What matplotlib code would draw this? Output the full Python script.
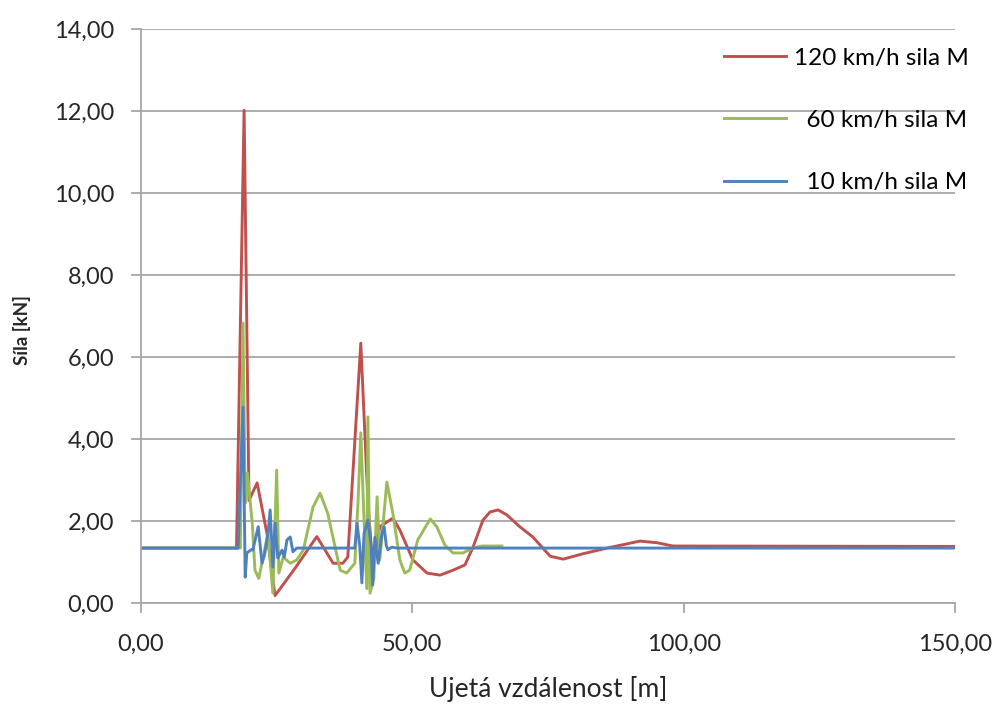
import matplotlib.pyplot as plt
from matplotlib.ticker import FuncFormatter, MultipleLocator

# 120 km/h
x_120 = [0, 17.6, 19.0, 19.9, 21.4, 23.2, 24.7, 28.4, 32.4, 35.4, 37.2, 38.1,
         40.5, 41.8, 42.7, 44.0, 46.4, 47.7, 50.1, 52.7, 55.1, 57.5, 59.7,
         61.2, 63.0, 64.3, 65.8, 67.4, 69.8, 72.2, 75.4, 77.8, 81.4, 85.9,
         91.9, 95.1, 98.0, 150]
y_120 = [1.34, 1.34, 12.02, 2.5, 2.93, 1.7, 0.18, 0.85, 1.62, 0.97, 0.97, 1.12,
         6.34, 2.5, 0.88, 1.86, 2.07, 1.78, 1.05, 0.73, 0.68, 0.8, 0.93,
         1.37, 2.02, 2.22, 2.27, 2.15, 1.86, 1.61, 1.14, 1.07, 1.2, 1.34,
         1.51, 1.47, 1.39, 1.38]

# 60 km/h
x_60 = [0, 18.3, 18.8, 19.2, 19.6, 20.1, 20.5, 21.0, 21.7, 22.5, 23.4, 24.3,
        25.0, 25.4, 26.2, 27.5, 28.7, 29.9, 31.7, 33.0, 34.4, 36.7, 37.9,
        39.4, 40.0, 40.5, 41.1, 41.6, 41.8, 42.2, 42.9, 43.5, 44.0, 45.3,
        46.4, 47.7, 48.6, 49.5, 51.0, 53.3, 54.5, 56.0, 57.5, 59.3, 61.2,
        62.8, 66.5]
y_60 = [1.34, 1.34, 6.83, 2.44, 3.17, 2.5, 1.95, 0.8, 0.6, 1.12, 1.7, 0.24,
        3.24, 0.73, 1.12, 0.97, 1.05, 1.29, 2.34, 2.68, 2.19, 0.8, 0.73,
        0.97, 2.5, 4.15, 2.0, 0.35, 4.54, 0.24, 0.6, 2.59, 1.05, 2.95,
        2.19, 1.05, 0.73, 0.8, 1.54, 2.05, 1.86, 1.41, 1.22, 1.22, 1.34,
        1.39, 1.39]

# 10 km/h
x_10 = [0, 17.9, 18.8, 19.2, 19.5, 20.3, 20.6, 21.6, 22.3, 22.8, 23.4, 23.8,
        24.3, 24.7, 25.2, 26.0, 26.4, 26.9, 27.5, 28.0, 28.7, 39.4, 39.8,
        40.3, 40.7, 41.1, 41.8, 42.4, 42.7, 43.1, 43.7, 44.4, 44.8, 45.2,
        45.5, 46.2, 47.2, 150]
y_10 = [1.34, 1.34, 4.78, 0.63, 1.22, 1.3, 1.29, 1.86, 0.97, 1.2, 1.7, 2.27,
        0.88, 1.95, 1.1, 1.29, 1.12, 1.54, 1.61, 1.25, 1.34, 1.34, 1.95,
        1.4, 0.49, 1.7, 2.02, 1.4, 0.44, 1.6, 0.97, 1.7, 1.86, 1.4,
        1.3, 1.36, 1.34, 1.34]

labels = ['120 km/h sila M', '  60 km/h sila M', '  10 km/h sila M']

plt.rcParams['font.family'] = ['Lato', 'DejaVu Sans']

fig = plt.figure(figsize=(9.97, 7.09), dpi=100)
ax = fig.add_axes([0.1414, 0.1495, 0.8166, 0.8095])

ax.plot(x_120, y_120, color='#C0504D', lw=2.1, label=labels[0])
ax.plot(x_60, y_60, color='#9BBB59', lw=2.1, label=labels[1])
ax.plot(x_10, y_10, color='#4F81BD', lw=2.1, label=labels[2])

ax.set_xlim(0, 150)
ax.set_ylim(0, 14)
ax.xaxis.set_major_locator(MultipleLocator(50))
ax.yaxis.set_major_locator(MultipleLocator(2))
fmt = FuncFormatter(lambda v, p: f"{v:.2f}".replace('.', ','))
ax.xaxis.set_major_formatter(fmt)
ax.yaxis.set_major_formatter(fmt)

ax.grid(axis='y', color='#A6A6A6', lw=1.3)
ax.set_axisbelow(True)
for s in ['top', 'right']:
    ax.spines[s].set_visible(False)
for s in ['left', 'bottom']:
    ax.spines[s].set_color('#A6A6A6')
    ax.spines[s].set_linewidth(1.3)
ax.tick_params(axis='both', length=7.5, width=1.3, color='#A6A6A6',
               labelsize=17, labelcolor='#262626')
ax.tick_params(axis='y', pad=12)
ax.tick_params(axis='x', pad=15)

ax.set_xlabel('Ujetá vzdálenost [m]', fontsize=19, color='#262626')
ax.xaxis.set_label_coords(0.5, -0.127)
ax.set_ylabel('Síla [kN]', fontsize=13.5, fontweight='bold', color='#262626')
ax.yaxis.set_label_coords(-0.135, 0.476)

ax.legend(loc='upper left', bbox_to_anchor=(0.714, 0.95),
          bbox_transform=fig.transFigure, frameon=False, fontsize=17.5,
          handlelength=2.55, handletextpad=0.35, labelspacing=1.7, borderpad=0)

fig.savefig('out.png', dpi=100)
